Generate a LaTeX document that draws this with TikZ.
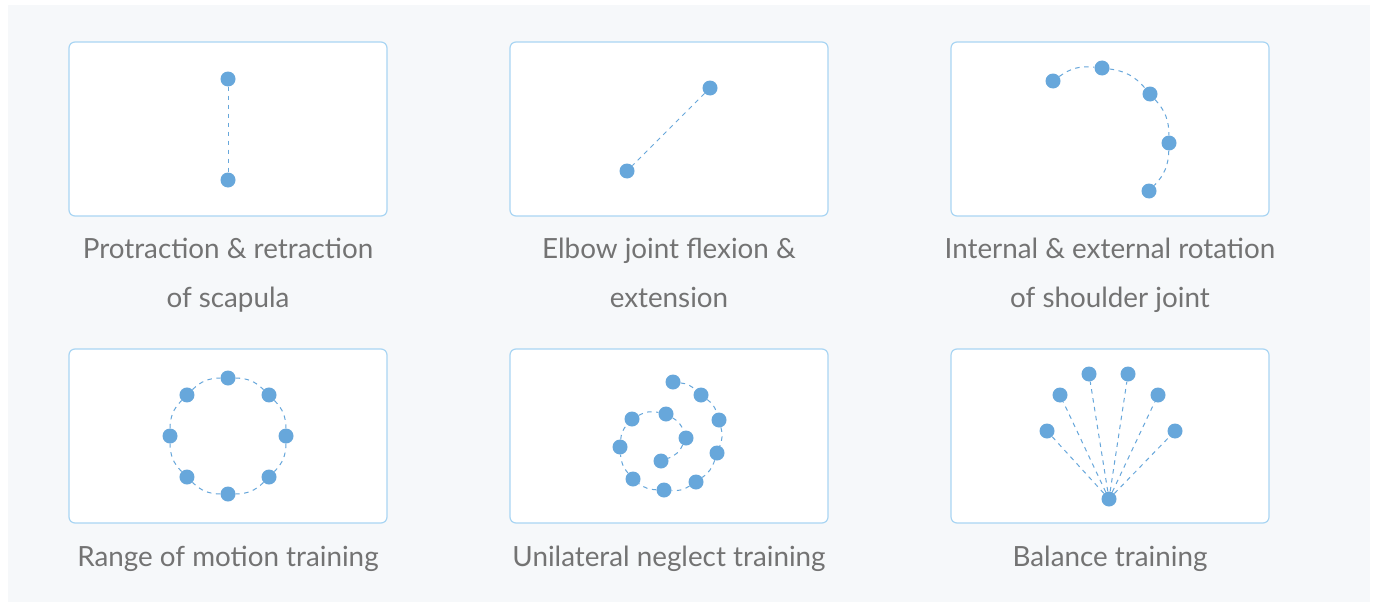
\documentclass[tikz,border=0pt]{standalone}
\usepackage{fontspec}
\setmainfont{Lato}
\usepackage{tikz}
\definecolor{dot}{HTML}{67A7DB}
\definecolor{frame}{HTML}{A9D5F3}
\definecolor{bg}{HTML}{F6F8FA}
\definecolor{txt}{HTML}{737373}
\tikzstyle{n}=[fill=dot,circle,inner sep=0,minimum size=15pt]
\tikzstyle{box}=[draw=frame,fill=white,line width=1.2pt,rounded corners=6pt,minimum width=318pt,minimum height=174pt,inner sep=0]
\tikzstyle{lbl}=[text=txt,font=\fontsize{27.8}{49}\selectfont,align=center,anchor=base,inner sep=0]
\tikzstyle{dl}=[draw=dot,line width=1pt,dash pattern=on 4.5pt off 4.5pt]

\begin{document}
\begin{tikzpicture}[x=1pt,y=-1pt]

    \useasboundingbox (0,0) rectangle (1375,602);
    \fill[bg] (8,5) rectangle (1370,602);

    % frames
    \node[box] (b1) at (228,129) {};
    \node[box] (b2) at (669,129) {};
    \node[box] (b3) at (1110,129) {};
    \node[box] (b4) at (228,436) {};
    \node[box] (b5) at (669,436) {};
    \node[box] (b6) at (1110,436) {};

    % labels (base = last line)
    \node[lbl] (t1) at (228,307) {Protraction \& retraction\\of scapula};
    \node[lbl] (t2) at (669,307) {Elbow joint flexion \&\\extension};
    \node[lbl] (t3) at (1110,307) {Internal \& external rotation\\of shoulder joint};
    \node[lbl] (t4) at (228,566) {Range of motion training};
    \node[lbl] (t5) at (669,566) {Unilateral neglect training};
    \node[lbl] (t6) at (1110,566) {Balance training};

    % scapula
    \node[n] (a1) at (228,79) {};
    \node[n] (a2) at (228,180) {};
    \draw[dl] (a1) -- (a2);

    % elbow
    \node[n] (e1) at (710,88) {};
    \node[n] (e2) at (627,171) {};
    \draw[dl] (e1) -- (e2);

    % shoulder rotation
    \node[n] (c1) at (1053,81) {};
    \node[n] (c2) at (1102,68) {};
    \node[n] (c3) at (1150,94) {};
    \node[n] (c4) at (1169,143) {};
    \node[n] (c5) at (1149,191) {};
    \draw[dl]
    (c1) to[bend left=21] (c2)
    (c2) to[bend left=21] (c3)
    (c3) to[bend left=21] (c4)
    (c4) to[bend left=21] (c5);

    % range of motion
    \coordinate (rc) at (228,436);
    \foreach \i in {0,...,7}
        \node[n] (r\i) at ([shift={(90-45*\i:58pt)}]rc) {};
    \foreach \i [evaluate=\i as \j using {int(mod(\i+1,8))}] in {0,...,7}
        \draw[dl] (r\i) to[bend left=22] (r\j);

    % neglect spiral
    \node[n] (s1) at (673,382) {};
    \node[n] (s2) at (701,395) {};
    \node[n] (s3) at (719,420) {};
    \node[n] (s4) at (717,453) {};
    \node[n] (s5) at (696,482) {};
    \node[n] (s6) at (664,490) {};
    \node[n] (s7) at (633,479) {};
    \node[n] (s8) at (620,447) {};
    \node[n] (s9) at (632,419) {};
    \node[n] (s10) at (666,414) {};
    \node[n] (s11) at (686,438) {};
    \node[n] (s12) at (661,461) {};
    \draw[dl]
    (s1) to[bend left=18] (s2)
    (s2) to[bend left=18] (s3)
    (s3) to[bend left=18] (s4)
    (s4) to[bend left=18] (s5)
    (s5) to[bend left=18] (s6)
    (s6) to[bend left=18] (s7)
    (s7) to[bend left=18] (s8)
    (s8) to[bend left=18] (s9)
    (s9) to[bend left=20] (s10)
    (s10) to[bend left=20] (s11)
    (s11) to[bend left=22] (s12);

    % balance
    \node[n] (f0) at (1109,499) {};
    \node[n] (f1) at (1047,431) {};
    \node[n] (f2) at (1060,395) {};
    \node[n] (f3) at (1089,374) {};
    \node[n] (f4) at (1128,374) {};
    \node[n] (f5) at (1158,395) {};
    \node[n] (f6) at (1175,431) {};
    \foreach \k in {1,...,6}
        \draw[dl] (f0) -- (f\k);

\end{tikzpicture}
\end{document}
